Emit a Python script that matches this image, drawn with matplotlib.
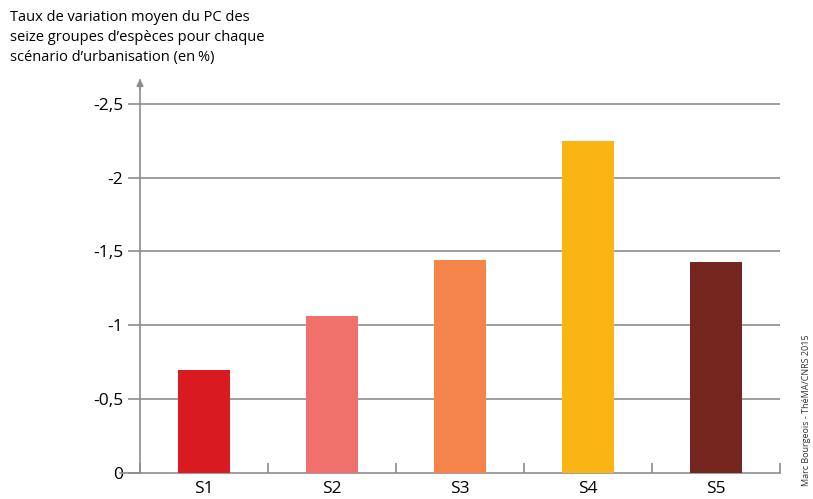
import numpy as np
from matplotlib import pyplot as plt

# taux de variation moyen du PC (en %), par scenario
scenarios = ['S1', 'S2', 'S3', 'S4', 'S5']
variation = [-0.70, -1.06, -1.44, -2.25, -1.43]
bar_colors = ['#d91a21', '#f0706b', '#f4844a', '#fab515', '#75261e']
yticks = [0, -0.5, -1, -1.5, -2, -2.5]
ytick_labels = ['0', '-0,5', '-1', '-1,5', '-2', '-2,5']

plt.rcParams['font.family'] = ['Open Sans', 'DejaVu Sans']
grey = '#8c8c8c'

fig = plt.figure(figsize=(8.13, 4.99), dpi=100)
ax = fig.add_axes([140/813, 1-473/499, 640/813, (473-80)/499])

x = np.arange(len(scenarios))
ax.bar(x, variation, width=0.4, color=bar_colors, zorder=3)

ax.set_xlim(-0.5, len(scenarios)-0.5)
ax.set_ylim(0, -2.66)

ax.set_yticks(yticks)
ax.set_yticklabels(ytick_labels, fontsize=12.5)
ax.tick_params(axis='y', length=9, width=1.2, color=grey, pad=3)
for yv in yticks[1:]:
    ax.axhline(yv, color=grey, lw=1.2, zorder=1)

# category boundaries as small ticks pointing up
ax.set_xticks(x)
ax.set_xticklabels(scenarios, fontsize=12.5)
ax.tick_params(axis='x', length=0, pad=6)
ax.set_xticks(np.arange(len(scenarios)+1)-0.5, minor=True)
ax.tick_params(axis='x', which='minor', direction='in', length=7, width=1.2, color=grey)

for s in ['top', 'right']:
    ax.spines[s].set_visible(False)
ax.spines['left'].set_color(grey)
ax.spines['left'].set_linewidth(1.2)
ax.spines['left'].set_zorder(4)
ax.spines['bottom'].set_color(grey)
ax.spines['bottom'].set_linewidth(1.2)
ax.spines['bottom'].set_bounds(-0.5 - 20/128, len(scenarios)-0.5)

# arrow on top of y axis
ax.annotate('', xy=(0, 1.01), xytext=(0, 0.97), xycoords='axes fraction',
            arrowprops=dict(arrowstyle='-|>', color=grey, lw=1.2, mutation_scale=10))

fig.text(10/813, 1-10/499,
         "Taux de variation moyen du PC des\nseize groupes d\u2019esp\u00e8ces pour chaque\nsc\u00e9nario d\u2019urbanisation (en\u202f%)",
         fontsize=10.5, va='top', ha='left', linespacing=1.45)
fig.text(806/813, 1-410/499, 'Marc Bourgeois - Th\u00e9MA/CNRS 2015', fontsize=6.5,
         rotation=90, ha='center', va='center', color='#333333')

fig.savefig('out.png', dpi=100)
